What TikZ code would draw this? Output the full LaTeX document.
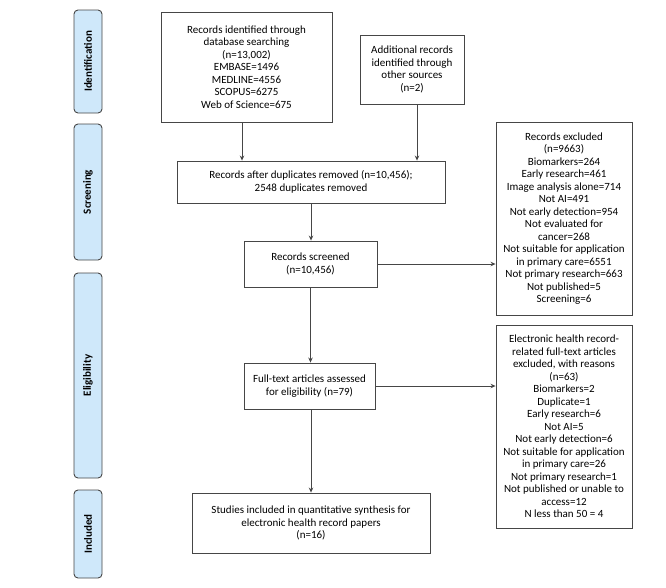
\documentclass[tikz,border=0pt]{standalone}
\usepackage{fontspec}
\setmainfont{Carlito}
\usetikzlibrary{arrows.meta}
\definecolor{barfill}{RGB}{207,232,250}
\definecolor{edge}{RGB}{70,70,70}
\begin{document}
\begin{tikzpicture}[x=1pt,y=-1pt,
  box/.style={draw=edge,line width=0.9pt,fill=white,inner sep=0pt,align=center,font=\fontsize{11}{12.5}\selectfont,text=black},
  bar/.style={draw=edge,line width=0.9pt,fill=barfill,rounded corners=4pt,inner sep=0pt,font=\fontsize{11}{12}\selectfont\bfseries,rotate=90},
  arr/.style={draw=edge,line width=0.8pt,-{Stealth[length=5pt,width=4.5pt]}}]
\useasboundingbox (0,0) rectangle (666,587);
% side bars (rotated: minimum width becomes vertical extent)
\node[bar,minimum width=103pt,minimum height=28pt] (sid) at (88,61.5) {Identification};
\node[bar,minimum width=136pt,minimum height=28pt] (ssc) at (88,192) {Screening};
\node[bar,minimum width=205pt,minimum height=28pt] (sel) at (88,375.5) {Eligibility};
\node[bar,minimum width=88pt,minimum height=28pt] (sin) at (88,534) {Included};
% boxes
\node[box,minimum width=171pt,minimum height=110pt] (b1) at (246.5,67)
 {Records identified through\\database searching\\(n=13,002)\\EMBASE=1496\\MEDLINE=4556\\SCOPUS=6275\\Web of Science=675};
\node[box,minimum width=104pt,minimum height=69pt] (b2) at (412,69.5)
 {Additional records\\identified through\\other sources\\(n=2)};
\node[box,minimum width=268pt,minimum height=42pt] (b3) at (311,182)
 {Records after duplicates removed (n=10,456);\\2548 duplicates removed};
\node[box,minimum width=133pt,minimum height=46pt] (b4) at (310.5,264)
 {Records screened\\(n=10,456)};
\node[box,minimum width=136pt,minimum height=193pt] (ex) at (564,218.5)
 {Records excluded\\(n=9663)\\Biomarkers=264\\Early research=461\\Image analysis alone=714\\Not AI=491\\Not early detection=954\\Not evaluated for\\cancer=268\\Not suitable for application\\in primary care=6551\\Not primary research=663\\Not published=5\\Screening=6};
\node[box,minimum width=131pt,minimum height=46pt] (ft) at (309.5,386)
 {Full-text articles assessed\\for eligibility (n=79)};
\node[box,minimum width=136pt,minimum height=203pt] (eh) at (564,426.5)
 {Electronic health record-\\related full-text articles\\excluded, with reasons\\(n=63)\\Biomarkers=2\\Duplicate=1\\Early research=6\\Not AI=5\\Not early detection=6\\Not suitable for application\\in primary care=26\\Not primary research=1\\Not published or unable to\\access=12\\N less than 50 = 4};
\node[box,minimum width=238pt,minimum height=60pt] (st) at (311,523)
 {Studies included in quantitative synthesis for\\electronic health record papers\\(n=16)};
% connectors
\draw[arr] ([xshift=-4.5pt]b1.south) -- ([xshift=-4.5pt]b1.south |- b3.north);
\draw[arr] ([xshift=5pt]b2.south) -- ([xshift=5pt]b2.south |- b3.north);
\draw[arr] (b3.south) -- (b3.south |- b4.north);
\draw[arr] (b4.east) -- (b4.east -| ex.west);
\draw[arr] (b4.south) -- (b4.south |- ft.north);
\draw[arr] (ft.east) -- (ft.east -| eh.west);
\draw[arr] ([xshift=1.5pt]ft.south) -- ([xshift=1.5pt]ft.south |- st.north);
\end{tikzpicture}
\end{document}
